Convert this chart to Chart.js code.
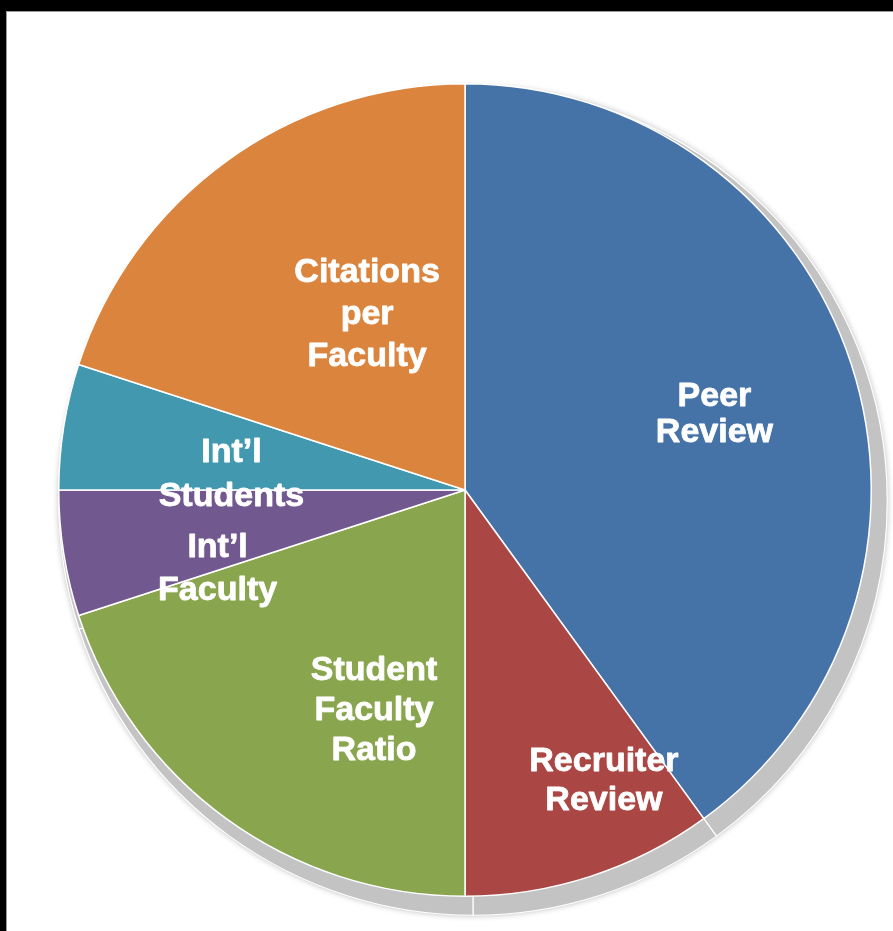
<!DOCTYPE html>
<html>
<head>
<meta charset="utf-8">
<script src="https://cdn.jsdelivr.net/npm/chart.js@4"></script>
<style>
  html, body { margin: 0; padding: 0; background: #000; width: 893px; height: 931px; overflow: hidden; }
  .panel { position: absolute; left: 6px; top: 11px; width: 887px; height: 920px; background: #fff; border-top: 1px solid #9a9a9a; border-left: 1px solid #9a9a9a; }
  #pie-chart { position: absolute; left: 0; top: 0; }
</style>
</head>
<body>
<div class="panel"></div>
<canvas id="pie-chart" width="893" height="931"></canvas>
<script>
const categories = ["Peer Review", "Recruiter Review", "Student Faculty Ratio", "Int’l Faculty", "Int’l Students", "Citations per Faculty"];
const weights = [40, 10, 20, 5, 5, 20];   // percent weights, clockwise from 12 o'clock
const sliceColors = ["#4572A7", "#AA4643", "#89A54E", "#71588F", "#4198AF", "#DB843D"];
const labelLines = [["Peer", "Review"], ["Recruiter", "Review"], ["Student", "Faculty", "Ratio"], ["Int’l", "Faculty"], ["Int’l", "Students"], ["Citations", "per", "Faculty"]];

// grey "3d" shadow behind the pie, drawn slice by slice from the arcs
const shadowPlugin = {
  id: "pieShadow",
  beforeDatasetsDraw(chart, args, opts) {
    const ctx = chart.ctx;
    const arcs = chart.getDatasetMeta(0).data;
    if (!arcs.length) return;
    const cx = arcs[0].x + opts.dx, cy = arcs[0].y + opts.dy;
    const r = arcs[0].outerRadius + opts.grow;
    ctx.save();
    ctx.shadowColor = "rgba(0,0,0,0.3)";
    ctx.shadowBlur = 6;
    ctx.beginPath();
    ctx.arc(cx, cy, r, 0, Math.PI * 2);
    ctx.fillStyle = opts.color;
    ctx.fill();
    ctx.restore();
    ctx.save();
    arcs.forEach(a => {
      ctx.beginPath();
      ctx.moveTo(cx, cy);
      ctx.arc(cx, cy, r, a.startAngle, a.endAngle);
      ctx.closePath();
      ctx.fillStyle = opts.color;
      ctx.fill();
      ctx.lineWidth = 1.2;
      ctx.strokeStyle = "#ffffff";
      ctx.stroke();
    });
    ctx.restore();
  }
};

// white bold labels inside the slices
const sliceLabels = {
  id: "sliceLabels",
  afterDatasetsDraw(chart, args, opts) {
    const ctx = chart.ctx;
    const arcs = chart.getDatasetMeta(0).data;
    if (!arcs.length) return;
    const cx = arcs[0].x, cy = arcs[0].y, r = arcs[0].outerRadius;
    ctx.save();
    ctx.fillStyle = "#ffffff";
    ctx.strokeStyle = "#ffffff";
    ctx.lineWidth = 0.8;
    ctx.lineJoin = "round";
    ctx.font = "bold 34px 'Liberation Sans', Arial, sans-serif";
    ctx.textAlign = "center";
    ctx.textBaseline = "middle";
    labelLines.forEach((lines, i) => {
      const off = opts.offsets[i];
      const lh = opts.lineHeights[i];
      const x = cx + off[0] * r;
      const y0 = cy + off[1] * r - (lines.length - 1) * lh / 2;
      lines.forEach((t, j) => {
        ctx.strokeText(t, x, y0 + j * lh);
        ctx.fillText(t, x, y0 + j * lh);
      });
    });
    ctx.restore();
  }
};

new Chart("pie-chart", {
  type: "pie",
  data: {
    labels: categories,
    datasets: [{
      data: weights,
      backgroundColor: sliceColors,
      borderColor: "#ffffff",
      borderWidth: 1.5,
      hoverOffset: 0
    }]
  },
  options: {
    responsive: false,
    animation: false,
    layout: { padding: { left: 58, right: 21, top: 83, bottom: 34 } },
    plugins: {
      legend: { display: false },
      tooltip: { enabled: false },
      pieShadow: { dx: 8, dy: 11, grow: 8, color: "#c3c3c3" },
      sliceLabels: {
        offsets: [[0.614, -0.185], [0.342, 0.716], [-0.224, 0.543], [-0.609, 0.194], [-0.575, -0.039], [-0.241, -0.432]],
        lineHeights: [36, 39, 40, 43, 44, 42]
      }
    }
  },
  plugins: [shadowPlugin, sliceLabels]
});
</script>
</body>
</html>
